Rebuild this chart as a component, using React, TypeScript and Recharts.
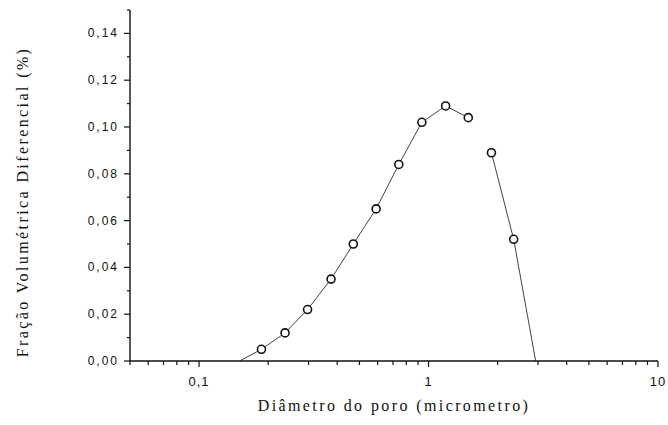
import { ComposedChart, Line, Scatter, XAxis, YAxis } from "recharts";

// pore diameter (micrometro) and differential volume fraction (%)
const poreDiameter = [0.187, 0.237, 0.297, 0.376, 0.47, 0.591, 0.742, 0.935, 1.187, 1.49, 1.88, 2.35];
const volumeFraction = [0.005, 0.012, 0.022, 0.035, 0.05, 0.065, 0.084, 0.102, 0.109, 0.104, 0.089, 0.052];
// where the curve meets zero at both ends (no marker there)
const curveStart = [0.15, 0];
const curveEnd = [2.93, 0];
// the scanned line is broken between these two points
const gapAfter = 9;

const xTicks = [0.05, 0.06, 0.07, 0.08, 0.09, 0.1, 0.2, 0.3, 0.4, 0.5, 0.6, 0.7, 0.8, 0.9, 1, 2, 3, 4, 5, 6, 7, 8, 9, 10];
const xMajor = [0.1, 1, 10];
const yTicks = [0, 0.01, 0.02, 0.03, 0.04, 0.05, 0.06, 0.07, 0.08, 0.09, 0.1, 0.11, 0.12, 0.13, 0.14, 0.15];
const yMajor = [0, 0.02, 0.04, 0.06, 0.08, 0.1, 0.12, 0.14];

const points = poreDiameter.map((d, i) => ({ d, f: volumeFraction[i] }));
const segA = [{ d: curveStart[0], f: curveStart[1] }, ...points.slice(0, gapAfter + 1)];
const segB = [...points.slice(gapAfter + 1), { d: curveEnd[0], f: curveEnd[1] }];

const comma = (v: number) => String(v).replace(".", ",");
const tickFont = { fontFamily: "'Liberation Sans', Arial, sans-serif", fontSize: 12, fill: "#111" };
const titleFont = { fontFamily: "'Liberation Serif', 'Times New Roman', serif", fontSize: 16, fill: "#111", letterSpacing: 2.4 };

const XTick = ({ x, y, payload }: any) => {
  const major = xMajor.includes(payload.value);
  return (
    <g>
      <line x1={x} x2={x} y1={y} y2={y + (major ? 6 : 4)} stroke="#111" strokeWidth={1.2} />
      {major && (
        <text x={x} y={y + 25} textAnchor="middle" {...tickFont} fontSize={13} letterSpacing={1}>
          {comma(payload.value)}
        </text>
      )}
    </g>
  );
};

const YTick = ({ x, y, payload }: any) => {
  const major = yMajor.includes(payload.value);
  return (
    <g>
      <line x1={x - (major ? 6 : 3)} x2={x} y1={y} y2={y} stroke="#111" strokeWidth={1.2} />
      {major && (
        <text x={x - 11} y={y + 4} textAnchor="end" {...tickFont} letterSpacing={2}>
          {payload.value.toFixed(2).replace(".", ",")}
        </text>
      )}
    </g>
  );
};

const Ring = ({ cx, cy }: any) => (
  <circle cx={cx} cy={cy} r={4} fill="#fff" stroke="#111" strokeWidth={1.6} />
);

export default function App() {
  return (
    <div style={{ position: "absolute", left: 0, top: 0, background: "#fff" }}>
      <ComposedChart width={668} height={425} margin={{ top: 10, right: 10, left: 0, bottom: 34 }}>
        <XAxis
          dataKey="d"
          type="number"
          scale="log"
          domain={[0.05, 10]}
          ticks={xTicks}
          interval={0}
          allowDataOverflow
          height={30}
          tickSize={0}
          tickMargin={0}
          tickLine={false}
          tick={<XTick />}
          axisLine={{ stroke: "#111", strokeWidth: 1.4 }}
          label={{
            content: ({ viewBox }: any) => (
              <text x={viewBox.x + viewBox.width / 2} y={411} textAnchor="middle" {...titleFont}>
                Diâmetro do poro (micrometro)
              </text>
            ),
          }}
        />
        <YAxis
          type="number"
          domain={[0, 0.15]}
          ticks={yTicks}
          interval={0}
          allowDataOverflow
          width={130}
          tickSize={0}
          tickMargin={0}
          tickLine={false}
          tick={<YTick />}
          axisLine={{ stroke: "#111", strokeWidth: 1.4 }}
          label={{
            content: () => (
              <text x={22} y={202} transform="rotate(-90, 22, 202)" textAnchor="middle" dominantBaseline="central" {...titleFont}>
                Fração Volumétrica Diferencial (%)
              </text>
            ),
          }}
        />
        <Line data={segA} dataKey="f" type="linear" stroke="#444" strokeWidth={1} dot={false} isAnimationActive={false} />
        <Line data={segB} dataKey="f" type="linear" stroke="#444" strokeWidth={1} dot={false} isAnimationActive={false} />
        <Scatter data={points} dataKey="f" shape={<Ring />} isAnimationActive={false} />
      </ComposedChart>
    </div>
  );
}
